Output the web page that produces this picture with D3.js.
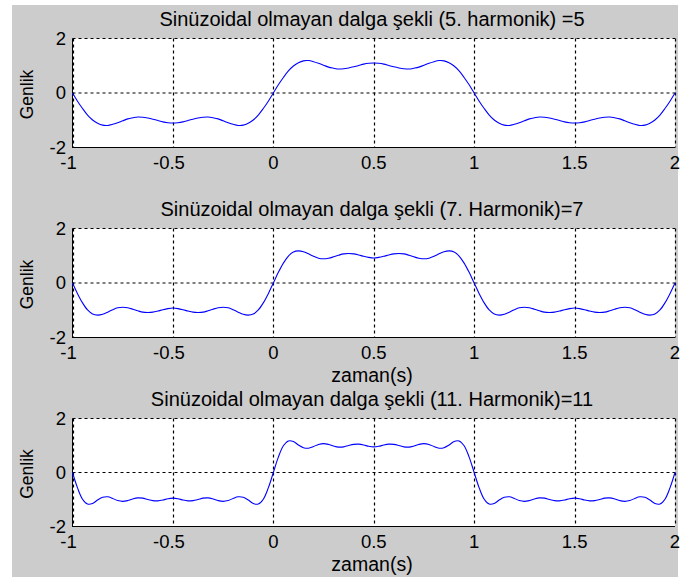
<!DOCTYPE html>
<html>
<head>
<meta charset="utf-8">
<script src="https://cdn.jsdelivr.net/npm/d3@7/dist/d3.min.js"></script>
<style>
  html, body { margin: 0; padding: 0; background: #ffffff; }
  svg { display: block; }
  text { font-family: "Liberation Sans", Arial, sans-serif; fill: #000; }
</style>
</head>
<body>
<svg id="chart" width="681" height="577"></svg>
<script>
// Time samples (s), step 0.025 from -1 to 2
const zaman = [
  -1, -0.975, -0.95, -0.925, -0.9, -0.875, -0.85, -0.825, -0.8, -0.775, -0.75, -0.725, -0.7, -0.675, -0.65, -0.625, -0.6, -0.575, -0.55, -0.525,
  -0.5, -0.475, -0.45, -0.425, -0.4, -0.375, -0.35, -0.325, -0.3, -0.275, -0.25, -0.225, -0.2, -0.175, -0.15, -0.125, -0.1, -0.075, -0.05, -0.025,
  0, 0.025, 0.05, 0.075, 0.1, 0.125, 0.15, 0.175, 0.2, 0.225, 0.25, 0.275, 0.3, 0.325, 0.35, 0.375, 0.4, 0.425, 0.45, 0.475,
  0.5, 0.525, 0.55, 0.575, 0.6, 0.625, 0.65, 0.675, 0.7, 0.725, 0.75, 0.775, 0.8, 0.825, 0.85, 0.875, 0.9, 0.925, 0.95, 0.975,
  1, 1.025, 1.05, 1.075, 1.1, 1.125, 1.15, 1.175, 1.2, 1.225, 1.25, 1.275, 1.3, 1.325, 1.35, 1.375, 1.4, 1.425, 1.45, 1.475,
  1.5, 1.525, 1.55, 1.575, 1.6, 1.625, 1.65, 1.675, 1.7, 1.725, 1.75, 1.775, 1.8, 1.825, 1.85, 1.875, 1.9, 1.925, 1.95, 1.975,
  2
];

// Amplitude, waveform up to the 5th harmonic
const genlik5 = [
  0, -0.30, -0.57, -0.81, -0.99, -1.11, -1.18, -1.19, -1.15, -1.09, -1.02, -0.95, -0.91, -0.88, -0.89, -0.92, -0.96, -1.01, -1.06, -1.09,
  -1.10, -1.09, -1.06, -1.01, -0.96, -0.92, -0.89, -0.88, -0.91, -0.95, -1.02, -1.09, -1.15, -1.19, -1.18, -1.11, -0.99, -0.81, -0.57, -0.30,
  0, 0.30, 0.57, 0.81, 0.99, 1.11, 1.18, 1.19, 1.15, 1.09, 1.02, 0.95, 0.91, 0.88, 0.89, 0.92, 0.96, 1.01, 1.06, 1.09,
  1.10, 1.09, 1.06, 1.01, 0.96, 0.92, 0.89, 0.88, 0.91, 0.95, 1.02, 1.09, 1.15, 1.19, 1.18, 1.11, 0.99, 0.81, 0.57, 0.30,
  0, -0.30, -0.57, -0.81, -0.99, -1.11, -1.18, -1.19, -1.15, -1.09, -1.02, -0.95, -0.91, -0.88, -0.89, -0.92, -0.96, -1.01, -1.06, -1.09,
  -1.10, -1.09, -1.06, -1.01, -0.96, -0.92, -0.89, -0.88, -0.91, -0.95, -1.02, -1.09, -1.15, -1.19, -1.18, -1.11, -0.99, -0.81, -0.57, -0.30,
  0
];

// Amplitude, waveform up to the 7th harmonic
const genlik7 = [
  0, -0.39, -0.73, -0.99, -1.14, -1.18, -1.15, -1.07, -0.98, -0.91, -0.89, -0.91, -0.96, -1.02, -1.07, -1.08, -1.07, -1.03, -0.98, -0.94,
  -0.92, -0.94, -0.98, -1.03, -1.07, -1.08, -1.07, -1.02, -0.96, -0.91, -0.89, -0.91, -0.98, -1.07, -1.15, -1.18, -1.14, -0.99, -0.73, -0.39,
  0, 0.39, 0.73, 0.99, 1.14, 1.18, 1.15, 1.07, 0.98, 0.91, 0.89, 0.91, 0.96, 1.02, 1.07, 1.08, 1.07, 1.03, 0.98, 0.94,
  0.92, 0.94, 0.98, 1.03, 1.07, 1.08, 1.07, 1.02, 0.96, 0.91, 0.89, 0.91, 0.98, 1.07, 1.15, 1.18, 1.14, 0.99, 0.73, 0.39,
  0, -0.39, -0.73, -0.99, -1.14, -1.18, -1.15, -1.07, -0.98, -0.91, -0.89, -0.91, -0.96, -1.02, -1.07, -1.08, -1.07, -1.03, -0.98, -0.94,
  -0.92, -0.94, -0.98, -1.03, -1.07, -1.08, -1.07, -1.02, -0.96, -0.91, -0.89, -0.91, -0.98, -1.07, -1.15, -1.18, -1.14, -0.99, -0.73, -0.39,
  0
];

// Amplitude, waveform up to the 11th harmonic
const genlik11 = [
  0, -0.57, -0.99, -1.17, -1.15, -1.02, -0.92, -0.90, -0.96, -1.04, -1.07, -1.04, -0.98, -0.94, -0.95, -1.00, -1.04, -1.05, -1.02, -0.97,
  -0.95, -0.97, -1.02, -1.05, -1.04, -1.00, -0.95, -0.94, -0.98, -1.04, -1.07, -1.04, -0.96, -0.90, -0.92, -1.02, -1.15, -1.17, -0.99, -0.57,
  0, 0.57, 0.99, 1.17, 1.15, 1.02, 0.92, 0.90, 0.96, 1.04, 1.07, 1.04, 0.98, 0.94, 0.95, 1.00, 1.04, 1.05, 1.02, 0.97,
  0.95, 0.97, 1.02, 1.05, 1.04, 1.00, 0.95, 0.94, 0.98, 1.04, 1.07, 1.04, 0.96, 0.90, 0.92, 1.02, 1.15, 1.17, 0.99, 0.57,
  0, -0.57, -0.99, -1.17, -1.15, -1.02, -0.92, -0.90, -0.96, -1.04, -1.07, -1.04, -0.98, -0.94, -0.95, -1.00, -1.04, -1.05, -1.02, -0.97,
  -0.95, -0.97, -1.02, -1.05, -1.04, -1.00, -0.95, -0.94, -0.98, -1.04, -1.07, -1.04, -0.96, -0.90, -0.92, -1.02, -1.15, -1.17, -0.99, -0.57,
  0
];

const xTicks = [-1, -0.5, 0, 0.5, 1, 1.5, 2];
const yTicks = [-2, 0, 2];
const titles = [
  "Sinüzoidal olmayan dalga şekli (5. harmonik) =5",
  "Sinüzoidal olmayan dalga şekli (7. Harmonik)=7",
  "Sinüzoidal olmayan dalga şekli (11. Harmonik)=11"
];
const yLabel = "Genlik";
const xLabel = "zaman(s)";

const panels = [
  { values: genlik5,  title: titles[0], top: 38.5,  bottom: 147.5, xlabel: false },
  { values: genlik7,  title: titles[1], top: 228.5, bottom: 337.5, xlabel: true },
  { values: genlik11, title: titles[2], top: 418.5, bottom: 526.5, xlabel: true }
];

const svg = d3.select("#chart");

// figure background
svg.append("rect")
  .attr("x", 12).attr("y", 5)
  .attr("width", 666).attr("height", 572)
  .attr("fill", "#cccccc");

const x = d3.scaleLinear().domain([-1, 2]).range([72.5, 675]);
const fmt = d => String(d);

panels.forEach(p => {
  const y = d3.scaleLinear().domain([-2, 2]).range([p.bottom, p.top]);
  const g = svg.append("g");

  // plot area
  g.append("rect")
    .attr("x", x(-1)).attr("y", p.top)
    .attr("width", x(2) - x(-1)).attr("height", p.bottom - p.top)
    .attr("fill", "#ffffff");

  // dotted grid
  g.selectAll("line.vgrid").data(xTicks).join("line")
    .attr("class", "vgrid")
    .attr("x1", d => Math.round(x(d)) + 0.5).attr("x2", d => Math.round(x(d)) + 0.5)
    .attr("y1", p.top).attr("y2", p.bottom)
    .attr("stroke", "#000").attr("stroke-width", 1.2)
    .attr("stroke-dasharray", "3,3");
  g.selectAll("line.hgrid").data(yTicks).join("line")
    .attr("class", "hgrid")
    .attr("x1", x(-1)).attr("x2", x(2))
    .attr("y1", d => y(d)).attr("y2", d => y(d))
    .attr("stroke", "#000").attr("stroke-width", 1.2)
    .attr("stroke-dasharray", "3,3");

  // left and bottom axis lines
  g.append("line")
    .attr("x1", x(-1)).attr("x2", x(-1))
    .attr("y1", p.top).attr("y2", p.bottom + 0.5)
    .attr("stroke", "#000").attr("stroke-width", 1);
  g.append("line")
    .attr("x1", x(-1)).attr("x2", x(2))
    .attr("y1", p.bottom).attr("y2", p.bottom)
    .attr("stroke", "#000").attr("stroke-width", 1);

  // waveform
  const line = d3.line()
    .x((d, i) => x(zaman[i]))
    .y(d => y(d))
    .curve(d3.curveCatmullRom.alpha(0.5));
  g.append("path")
    .datum(p.values)
    .attr("d", line)
    .attr("fill", "none")
    .attr("stroke", "#0000ff")
    .attr("stroke-width", 1.1);

  // x tick labels
  g.selectAll("text.xt").data(xTicks).join("text")
    .attr("class", "xt")
    .attr("x", d => x(d) + (d < 0 ? -4 : 0))
    .attr("y", p.bottom + 21)
    .attr("text-anchor", "middle")
    .attr("font-size", 18.5)
    .text(fmt);

  // y tick labels
  g.selectAll("text.yt").data(yTicks).join("text")
    .attr("class", "yt")
    .attr("x", 66)
    .attr("y", d => y(d) + 6)
    .attr("text-anchor", "end")
    .attr("font-size", 18.5)
    .text(fmt);

  // title
  g.append("text")
    .attr("x", 372)
    .attr("y", p.top - 13)
    .attr("text-anchor", "middle")
    .attr("font-size", 20)
    .text(p.title);

  // y label
  g.append("text")
    .attr("transform", `translate(33,${(p.top + p.bottom) / 2 + 1.5}) rotate(-90)`)
    .attr("text-anchor", "middle")
    .attr("font-size", 17.5)
    .text(yLabel);

  // x label
  if (p.xlabel) {
    g.append("text")
      .attr("x", 372)
      .attr("y", p.bottom + 44)
      .attr("text-anchor", "middle")
      .attr("font-size", 19.5)
      .text(xLabel);
  }
});
</script>
</body>
</html>
